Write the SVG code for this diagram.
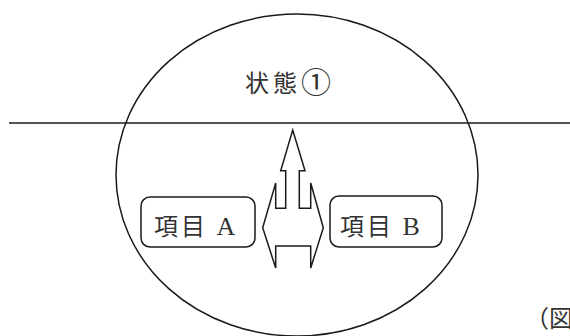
<svg xmlns="http://www.w3.org/2000/svg" width="570" height="336" viewBox="0 0 570 336">
<style>
.s{fill:none;stroke:#1a1a1a;stroke-width:1.5}
.t{font-family:"Noto Sans CJK JP","Liberation Serif",serif;fill:#333;font-size:24px}
.l{font-family:"Liberation Serif","Noto Sans CJK JP",serif}
</style>
<rect width="570" height="336" fill="#fff"/>
<g id="state">
<ellipse class="s" cx="297" cy="175" rx="181" ry="161"/>
<text class="t" x="245" y="92" letter-spacing="4">状態<tspan font-size="30" dy="1">①</tspan></text>
</g>
<g id="connectors">
<line class="s" x1="9" y1="123" x2="570" y2="123"/>
<polygon class="s" stroke-width="1.3" points="292.7,130 305,170.7 299.3,170.7 299.3,208.3 310.7,208.3 310.7,183 323.3,227.7 310.7,268 310.7,246 275.7,246 275.7,268 262.7,227.7 275.7,183 275.7,208.3 285.7,208.3 285.7,170.7 280.7,170.7"/>
</g>
<g id="itemA">
<rect class="s" x="141" y="197" width="114" height="50" rx="9"/>
<text class="t" x="154" y="235" letter-spacing="3">項目 <tspan class="l" font-size="26">A</tspan></text>
</g>
<g id="itemB">
<rect class="s" x="330" y="196" width="112" height="51" rx="9"/>
<text class="t" x="340" y="235" letter-spacing="3">項目 <tspan class="l" font-size="26">B</tspan></text>
</g>
<g id="caption">
<text class="t" x="525" y="327">（図</text>
</g>
</svg>
